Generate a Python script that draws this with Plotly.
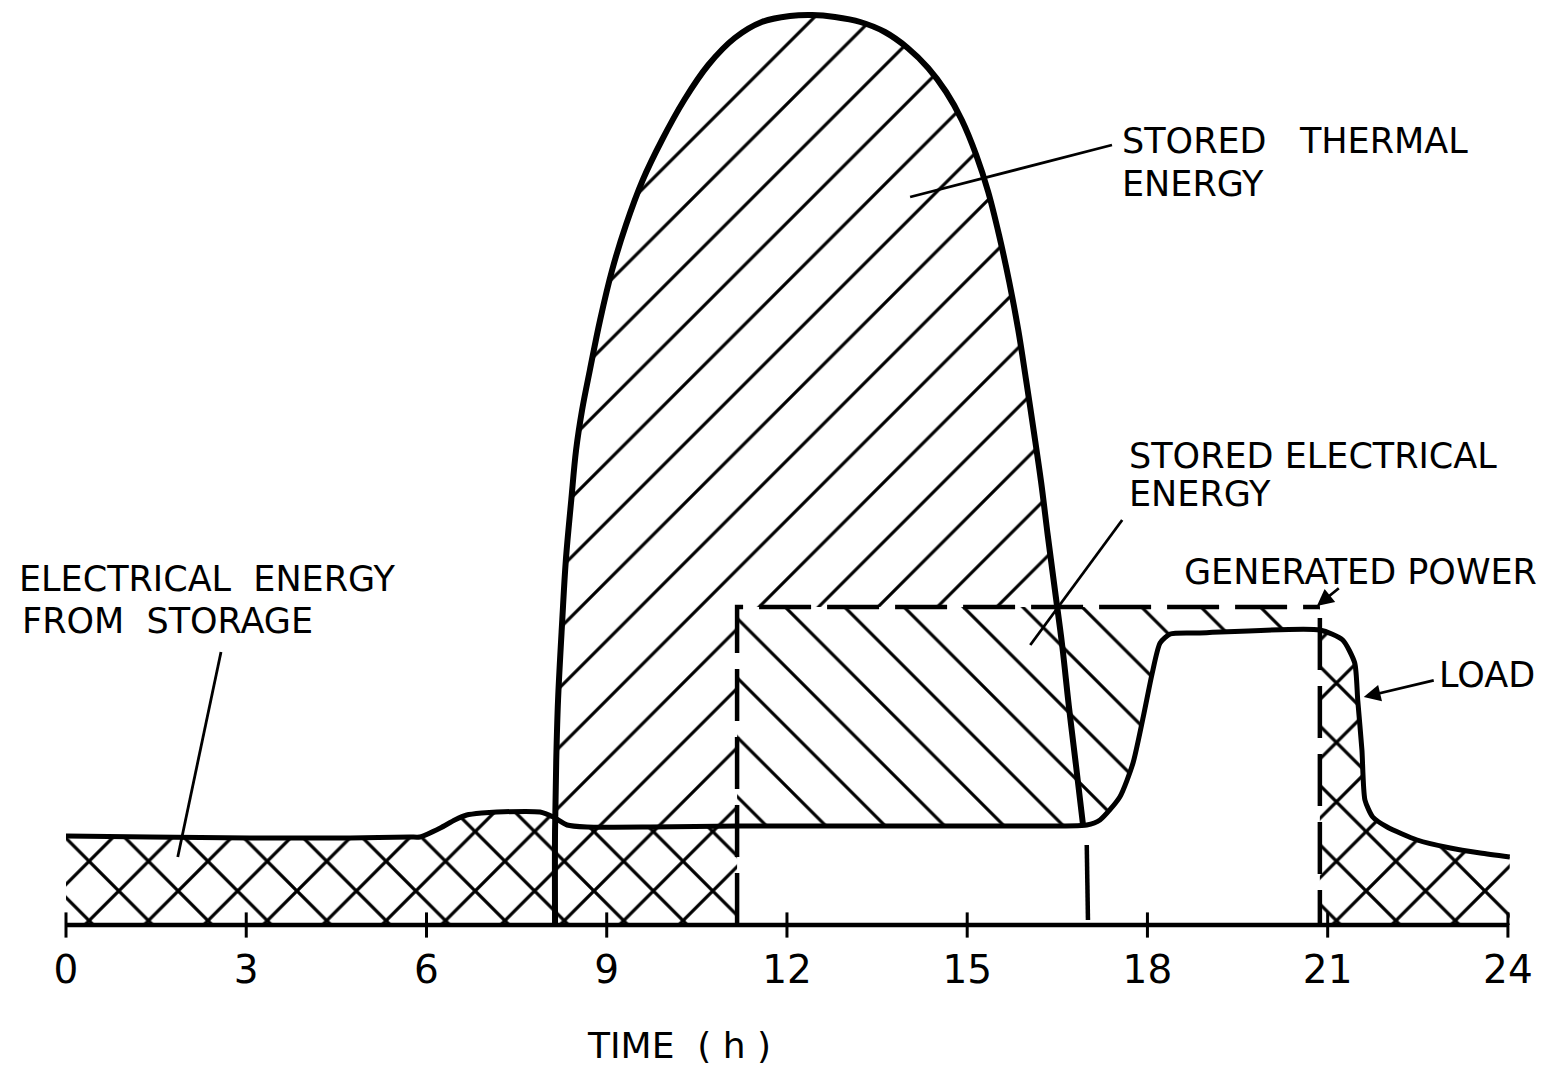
import numpy as np
import plotly.graph_objects as go

# ---------------- data (hours, arbitrary power units) ----------------
load_t = [0, 1.40, 3.06, 4.73, 5.73, 5.89, 6.23, 6.47, 6.67, 6.92,
          7.17, 7.89, 8.11, 8.34, 8.67, 9.72, 11.17, 13.88, 15.55, 16.99,
          17.21, 17.54, 17.76, 17.93, 18.08, 18.21, 18.38, 18.87, 20.87, 21.25,
          21.45, 21.50, 21.57, 21.62, 21.75, 21.99, 22.49, 23.04, 23.54, 24.03]
load_p = [8.9, 8.8, 8.7, 8.7, 8.8, 8.8, 9.7, 10.5, 11.0, 11.2,
          11.3, 11.3, 10.8, 10.0, 9.8, 9.8, 9.9, 9.9, 9.9, 10.0,
          10.5, 12.8, 16.2, 20.8, 25.2, 28.2, 29.1, 29.2, 29.5, 28.5,
          26.2, 22.5, 17.5, 12.5, 10.8, 9.8, 8.5, 7.7, 7.2, 6.8]

thermal_t = [8.14, 8.14, 8.16, 8.19, 8.26, 8.32, 8.41, 8.49, 8.59, 8.72,
             8.89, 9.09, 9.32, 9.60, 9.92, 10.29, 10.69, 11.13, 11.58, 12.05,
             12.42, 12.80, 13.22, 13.63, 14.01, 14.35, 14.65, 14.91, 15.15, 15.35,
             15.53, 15.70, 15.85, 15.98, 16.11, 16.23, 16.34, 16.46, 16.58, 16.69,
             16.81, 16.93]
thermal_p = [0, 9.5, 16.5, 22.5, 30.5, 36.5, 42.5, 47.5, 51.5, 55.5,
             60.5, 65.5, 70.0, 74.5, 78.5, 82.5, 86.0, 88.7, 90.3, 90.9,
             91.0, 90.8, 90.3, 89.3, 87.7, 85.7, 83.3, 80.5, 77.0, 73.3,
             69.0, 64.3, 59.5, 54.5, 49.3, 44.3, 39.0, 33.5, 28.0, 22.0,
             16.0, 9.9]

gen_t = [11.17, 20.87]     # generation on / off
gen_p = 31.8               # generated power level

tick_vals = [0, 3, 6, 9, 12, 15, 18, 21, 24]
tick_text = ["0", "3", "6", "9", "12", "15", "18", "21", "24"]

# ---------------- helpers ----------------
lt = np.array(load_t)
lp = np.array(load_p)


def load_at(t):
    return float(np.interp(t, lt, lp))


def load_segment(t0, t1):
    m = (lt > t0) & (lt < t1)
    ts = [t0] + list(lt[m]) + [t1]
    ps = [load_at(t0)] + list(lp[m]) + [load_at(t1)]
    return ts, ps


fig = go.Figure()
BLACK = "black"
FONT = "DejaVu Sans"

# thermal energy region ("/" hatch) : dome above load
th_end = thermal_t[-1]
th_start = thermal_t[0]
seg_t, seg_p = load_segment(th_start, th_end)
poly_t = list(thermal_t) + seg_t[::-1]
poly_p = list(thermal_p) + seg_p[::-1]
fig.add_trace(go.Scatter(x=poly_t, y=poly_p, mode="none", fill="toself",
                         fillcolor="rgba(255,255,255,0)",
                         fillpattern=dict(shape="/", size=42, solidity=0.075,
                                          fgcolor=BLACK, fgopacity=1,
                                          bgcolor="rgba(255,255,255,0)"),
                         hoverinfo="skip", showlegend=False))

# stored electrical energy ("\" hatch) between load and generated power
seg_t, seg_p = load_segment(gen_t[0], gen_t[1])
poly_t = [gen_t[0], gen_t[0], gen_t[1]] + seg_t[::-1]
poly_p = [load_at(gen_t[0]), gen_p, gen_p] + seg_p[::-1]
fig.add_trace(go.Scatter(x=poly_t, y=poly_p, mode="none", fill="toself",
                         fillcolor="white",
                         fillpattern=dict(shape="\\", size=42, solidity=0.075,
                                          fgcolor=BLACK, fgopacity=1, bgcolor="white"),
                         hoverinfo="skip", showlegend=False))

# electrical energy from storage (cross hatch)
for a, b in [(load_t[0], gen_t[0]), (gen_t[1], load_t[-1])]:
    seg_t, seg_p = load_segment(a, b)
    poly_t = [a] + seg_t + [b]
    poly_p = [0] + seg_p + [0]
    fig.add_trace(go.Scatter(x=poly_t, y=poly_p, mode="none", fill="toself",
                             fillcolor="white",
                             fillpattern=dict(shape="x", size=42, solidity=0.15,
                                              fgcolor=BLACK, fgopacity=1, bgcolor="white"),
                             hoverinfo="skip", showlegend=False))

# generated power (dashed)
fig.add_trace(go.Scatter(x=[gen_t[0], gen_t[0], gen_t[1]], y=[0, gen_p, gen_p],
                         mode="lines", line=dict(color=BLACK, width=4.5, dash="52px,16px"),
                         hoverinfo="skip", showlegend=False))
fig.add_trace(go.Scatter(x=[gen_t[1], gen_t[1]], y=[gen_p - 1.1, 0],
                         mode="lines", line=dict(color=BLACK, width=4.5, dash="52px,16px"),
                         hoverinfo="skip", showlegend=False))

# thermal dome outline
fig.add_trace(go.Scatter(x=thermal_t, y=thermal_p, mode="lines",
                         line=dict(color=BLACK, width=6, shape="spline", smoothing=1.0),
                         hoverinfo="skip", showlegend=False))
fig.add_trace(go.Scatter(x=[th_end + 0.06, th_end + 0.08], y=[8.0, 0.5], mode="lines",
                         line=dict(color=BLACK, width=4.5),
                         hoverinfo="skip", showlegend=False))

# load curve
fig.add_trace(go.Scatter(x=load_t, y=load_p, mode="lines",
                         line=dict(color=BLACK, width=5, shape="spline", smoothing=0.6),
                         hoverinfo="skip", showlegend=False))

# time axis line, ticks and labels
fig.add_trace(go.Scatter(x=[tick_vals[0], tick_vals[-1]], y=[0, 0], mode="lines",
                         line=dict(color=BLACK, width=4.5), hoverinfo="skip", showlegend=False))
fig.add_trace(go.Scatter(x=tick_vals, y=[0] * len(tick_vals), mode="markers",
                         marker=dict(symbol="line-ns", size=18,
                                     line=dict(color=BLACK, width=3)),
                         hoverinfo="skip", showlegend=False))
fig.add_trace(go.Scatter(x=tick_vals, y=[-4.8] * len(tick_vals), mode="text",
                         text=tick_text,
                         textfont=dict(family=FONT, size=39, color=BLACK),
                         hoverinfo="skip", showlegend=False))

# leader lines (no heads)
leaders = [
    ([2.58, 1.86], [27.3, 6.8]),      # electrical energy from storage
    ([17.41, 14.05], [78.0, 72.8]),   # stored thermal energy
    ([17.58, 16.05], [40.5, 28.0]),   # stored electrical energy
]
for xs, ys in leaders:
    fig.add_trace(go.Scatter(x=xs, y=ys, mode="lines", line=dict(color=BLACK, width=2.8),
                             hoverinfo="skip", showlegend=False))

# arrows (tail -> tip)
arrows = [
    ((21.21, 33.8), (20.82, 31.9)),   # generated power
    ((22.79, 24.5), (21.60, 22.8)),   # load
]
for (tx, ty), (hx, hy) in arrows:
    fig.add_annotation(x=hx, y=hy, ax=tx, ay=ty, xref="x", yref="y", axref="x", ayref="y",
                       text="", showarrow=True, arrowhead=2, arrowsize=1.2,
                       arrowwidth=2.8, arrowcolor=BLACK)

NB = "\u00a0"
labels = [
    ("STORED" + NB * 3 + "THERMAL", 17.54, 78.4, 35),
    ("ENERGY", 17.54, 74.1, 35),
    ("STORED" + NB + "ELECTRICAL", 17.66, 46.9, 35),
    ("ENERGY", 17.66, 43.1, 35),
    ("GENERATED" + NB + "POWER", 18.58, 35.3, 35),
    ("LOAD", 22.82, 25.0, 35),
    ("ELECTRICAL" + NB + NB + "ENERGY", -0.82, 34.6, 35),
    ("FROM" + NB + NB + "STORAGE", -0.77, 30.4, 35),
    ("TIME" + NB * 2 + "(" + NB + "h" + NB + ")", 8.64, -12.0, 36),
]
for txt, x, y, fs in labels:
    fig.add_annotation(x=x, y=y, xref="x", yref="y", text=txt, showarrow=False,
                       xanchor="left", yanchor="middle",
                       font=dict(family=FONT, size=fs, color=BLACK))

fig.update_layout(
    width=1568, height=1069, autosize=False,
    margin=dict(l=0, r=0, t=0, b=0),
    paper_bgcolor="white", plot_bgcolor="white",
    xaxis=dict(range=[-1.0985, 25.0], visible=False, fixedrange=True),
    yaxis=dict(range=[-14.4, 92.5], visible=False, fixedrange=True),
    showlegend=False,
)

fig.write_html("out.html", config={"displayModeBar": False},
               post_script="document.body.style.margin='0';document.body.style.overflow='hidden';")
